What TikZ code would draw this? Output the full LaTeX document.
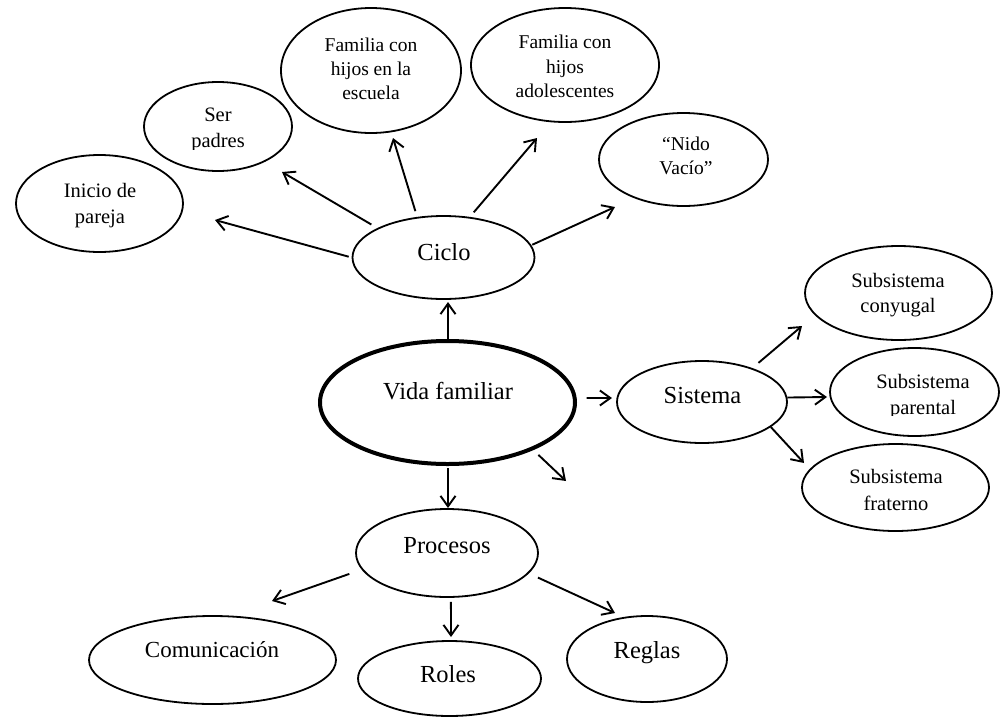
\documentclass[tikz,border=0pt]{standalone}
\usepackage{fontspec}
\setmainfont{Liberation Serif}
\usetikzlibrary{arrows.meta,shapes.geometric}

\begin{document}
\begin{tikzpicture}[x=1pt,y=-1pt,
  oval/.style={ellipse,draw,line width=1.8pt,inner sep=0pt},
  mainoval/.style={ellipse,draw,line width=4pt,inner sep=0pt},
  big/.style={anchor=base,inner sep=0pt,font=\fontsize{24.5}{29}\selectfont},
  small/.style={anchor=base,inner sep=0pt,font=\fontsize{20.5}{25}\selectfont},
  tiny/.style={anchor=base,inner sep=0pt,font=\fontsize{19.5}{24}\selectfont},
  arr/.style={line width=1.9pt,-{Straight Barb[length=10.5pt,width=15pt,line width=1.9pt]}}
]
\useasboundingbox (0,0) rectangle (1001,718);

% ---------- ellipses ----------
\node[mainoval,minimum width=255pt,minimum height=123pt] (vida) at (447.5,402.5) {};
\node[oval,minimum width=182pt,minimum height=83pt] (ciclo) at (443.5,257.5) {};
\node[oval,minimum width=167pt,minimum height=97pt] (inicio) at (99.5,203.5) {};
\node[oval,minimum width=148pt,minimum height=89pt] (ser) at (218,126.5) {};
\node[oval,minimum width=180pt,minimum height=125pt] (escuela) at (371,70.5) {};
\node[oval,minimum width=188pt,minimum height=114pt] (adol) at (565,65) {};
\node[oval,minimum width=169pt,minimum height=93pt] (nido) at (683.5,159.5) {};
\node[oval,minimum width=170pt,minimum height=82pt] (sistema) at (702,402) {};
\node[oval,minimum width=187pt,minimum height=94pt] (conyugal) at (898.5,293) {};
\node[oval,minimum width=169pt,minimum height=88pt] (parental) at (914.5,392) {};
\node[oval,minimum width=187pt,minimum height=87pt] (fraterno) at (895.5,487.5) {};
\node[oval,minimum width=182pt,minimum height=88pt] (procesos) at (447,553) {};
\node[oval,minimum width=247pt,minimum height=88pt] (comunicacion) at (212.5,660) {};
\node[oval,minimum width=183pt,minimum height=75pt] (roles) at (449.5,678.5) {};
\node[oval,minimum width=160pt,minimum height=86pt] (reglas) at (647,659) {};

% ---------- labels ----------
\node[big] (tvida) at (448,399) {Vida familiar};
\node[big] (tciclo) at (444,260) {Ciclo};
\node[small] (tinicio1) at (100,197) {Inicio de};
\node[small] (tinicio2) at (100,223) {pareja};
\node[small] (tser1) at (218,121.7) {Ser};
\begin{scope}
  \clip (140,125) rectangle (300,149.5);
  \node[small] (tser2) at (218,147.3) {padres};
\end{scope}
\node[tiny] (tesc1) at (371,51.7) {Familia con};
\node[tiny] (tesc2) at (371,75.3) {hijos en la};
\node[tiny] (tesc3) at (371,99) {escuela};
\node[tiny] (tadol1) at (565,48.3) {Familia con};
\node[tiny] (tadol2) at (565,73) {hijos};
\node[tiny] (tadol3) at (565,97.3) {adolescentes};
\node[tiny] (tnido1) at (686,150) {“Nido};
\node[tiny] (tnido2) at (686,174) {Vacío”};
\node[big] (tsistema) at (702.5,403) {Sistema};
\node[small] (tcony1) at (898,287) {Subsistema};
\node[small] (tcony2) at (898,312) {conyugal};
\node[small] (tpar1) at (923,388) {Subsistema};
\begin{scope}
  \clip (840,392) rectangle (1001,415.5);
  \node[small] (tpar2) at (923,414) {parental};
\end{scope}
\node[small] (tfra1) at (896,483) {Subsistema};
\node[small] (tfra2) at (896,510) {fraterno};
\node[big] (tprocesos) at (447,553) {Procesos};
\node[big,font=\fontsize{23}{28}\selectfont] (tcomu) at (212,657) {Comunicación};
\node[big] (troles) at (448,682) {Roles};
\node[big] (treglas) at (647,658) {Reglas};

% ---------- arrow tips ----------
\coordinate (pInicio) at (215,220);
\coordinate (pSer) at (282,172);
\coordinate (pEscuela) at (393,138);
\coordinate (pAdol) at (537,138);
\coordinate (pNido) at (615,207);
\coordinate (pCiclo) at (448,302);
\coordinate (pSistema) at (612,398);
\coordinate (pLibre) at (566,481);
\coordinate (pProcesos) at (448,508);
\coordinate (pConyugal) at (802,326);
\coordinate (pParental) at (827,397);
\coordinate (pFraterno) at (804,463);
\coordinate (pComu) at (272,601);
\coordinate (pRoles) at (451,637);
\coordinate (pReglas) at (615,613);

% ---------- connectors ----------
\draw[arr,shorten <=3pt] (ciclo.180) -- (pInicio);
\draw[arr,shorten <=7pt] (ciclo.156.8) -- (pSer);
\draw[arr,shorten <=6pt] (ciclo.123.8) -- (pEscuela);
\draw[arr,shorten <=6pt] (ciclo.57) -- (pAdol);
\draw[arr,shorten <=1pt] (ciclo.8) -- (pNido);

\draw[arr] (vida.north -| pCiclo) -- (pCiclo);
\draw[arr,shorten <=10pt] (vida.2) -- (pSistema);
\draw[arr,shorten <=7pt] (vida.-29.4) -- (pLibre);
\draw[arr,shorten <=2pt] (vida.south -| pProcesos) -- (pProcesos);

\draw[arr,shorten <=8pt] (sistema.34.4) -- (pConyugal);
\draw[arr] (sistema.3.3) -- (pParental);
\draw[arr] (sistema.-20.9) -- (pFraterno);

\draw[arr,shorten <=13pt] (procesos.191.5) -- (pComu);
\draw[arr,shorten <=4pt] (procesos.-85.3) -- (pRoles);
\draw[arr,shorten <=10pt] (procesos.-14) -- (pReglas);
\end{tikzpicture}
\end{document}
